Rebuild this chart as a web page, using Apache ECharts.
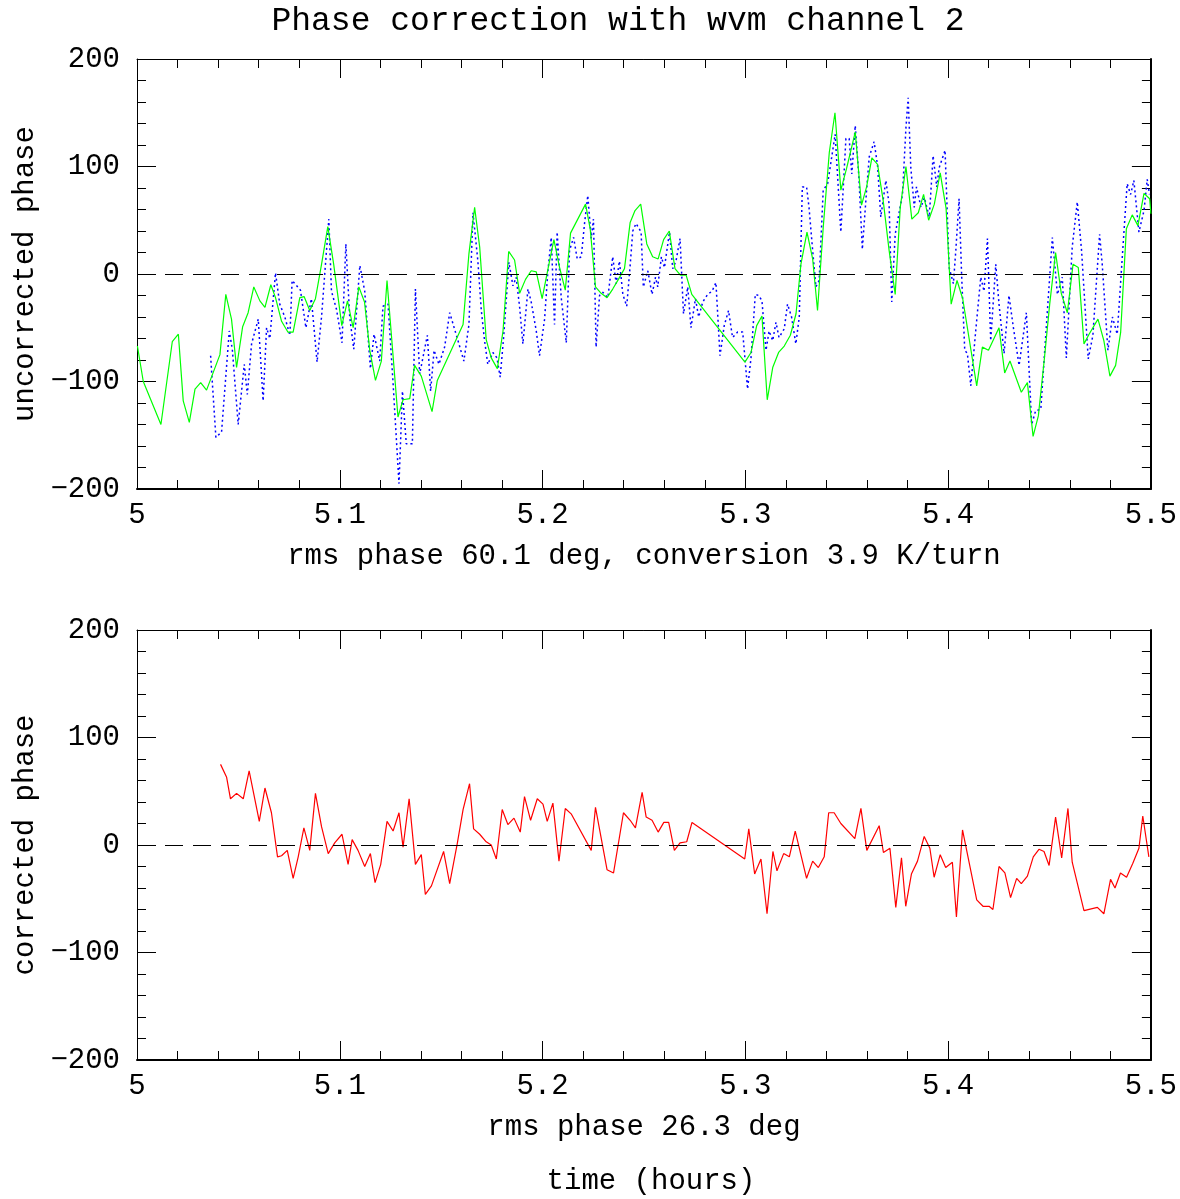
<!DOCTYPE html>
<html lang="en">
<head>
    <meta http-equiv="Content-Type" content="text/html; charset=UTF-8">
    <title>Phase correction with wvm channel 2</title>
    <script type="text/javascript" src="https://cdn.jsdelivr.net/npm/echarts@6/dist/echarts.min.js"></script>
    <style>
        html, body { margin: 0; padding: 0; background: #fff; }
        #chart { width: 1180px; height: 1199px; }
    </style>
</head>
<body>
<div id="chart"></div>
<script type="text/javascript">
    // [time (hours), phase (deg)]
    var uncorrected = [
        [5.0363,-76],[5.0389,-152],[5.0417,-147],[5.0455,-53],[5.0470,-70],[5.0499,-140],[5.0529,-84],[5.0544,-112],
        [5.0565,-65],[5.0598,-42],[5.0622,-118],[5.0639,-50],[5.0655,-60],[5.0683,1],[5.0704,-28],[5.0729,-40],
        [5.0754,-57],[5.0765,-6],[5.0806,-15],[5.0833,-50],[5.0860,-23],[5.0888,-82],[5.0910,-40],[5.0946,51],
        [5.0959,-16],[5.0984,-33],[5.1011,-64],[5.1030,28],[5.1049,-40],[5.1069,-70],[5.1099,8],[5.1123,-16],
        [5.1151,-88],[5.1169,-56],[5.1197,-81],[5.1213,-30],[5.1238,-28],[5.1263,-102],[5.1292,-195],[5.1309,-109],
        [5.1328,-158],[5.1358,-158],[5.1373,-14],[5.1394,-93],[5.1432,-57],[5.1448,-109],[5.1465,-71],[5.1489,-84],
        [5.1517,-68],[5.1542,-36],[5.1583,-62],[5.1612,-81],[5.1637,-47],[5.1657,57],[5.1681,12],[5.1698,-34],
        [5.1714,-62],[5.1730,-84],[5.1755,-73],[5.1775,-78],[5.1791,-96],[5.1808,-59],[5.1834,11],[5.1854,-11],
        [5.1870,-3],[5.1887,-31],[5.1903,-65],[5.1928,-14],[5.1944,-26],[5.1969,-53],[5.1985,-76],[5.2010,-42],
        [5.2026,2],[5.2043,34],[5.2059,-47],[5.2072,39],[5.2092,-22],[5.2117,-64],[5.2133,22],[5.2153,34],
        [5.2171,14],[5.2191,16],[5.2207,47],[5.2223,73],[5.2240,33],[5.2251,51],[5.2264,-68],[5.2281,-20],
        [5.2297,-17],[5.2322,-22],[5.2346,16],[5.2363,-9],[5.2379,12],[5.2396,-19],[5.2415,-30],[5.2432,8],
        [5.2445,40],[5.2461,47],[5.2486,39],[5.2497,-12],[5.2519,3],[5.2540,-19],[5.2557,-3],[5.2568,-12],
        [5.2586,16],[5.2601,6],[5.2626,39],[5.2642,5],[5.2658,12],[5.2678,33],[5.2695,-37],[5.2716,-12],
        [5.2732,-50],[5.2754,-23],[5.2770,-40],[5.2790,-26],[5.2814,-19],[5.2836,-16],[5.2855,-8],[5.2875,-76],
        [5.2896,-48],[5.2917,-34],[5.2937,-59],[5.2962,-54],[5.2987,-54],[5.3011,-107],[5.3028,-78],[5.3049,-19],
        [5.3066,-20],[5.3082,-25],[5.3102,-71],[5.3117,-53],[5.3135,-62],[5.3151,-45],[5.3166,-59],[5.3192,-51],
        [5.3208,-28],[5.3228,-40],[5.3249,-65],[5.3266,-40],[5.3281,81],[5.3302,81],[5.3314,62],[5.3332,22],
        [5.3348,-12],[5.3364,-6],[5.3384,78],[5.3406,84],[5.3443,130],[5.3471,39],[5.3496,126],[5.3512,126],
        [5.3525,93],[5.3542,138],[5.3560,90],[5.3577,23],[5.3598,78],[5.3611,109],[5.3635,123],[5.3652,101],
        [5.3668,53],[5.3693,87],[5.3709,65],[5.3722,-26],[5.3739,37],[5.3775,74],[5.3792,136],[5.3803,164],
        [5.3816,99],[5.3833,62],[5.3844,81],[5.3866,62],[5.3883,71],[5.3907,53],[5.3926,110],[5.3944,81],
        [5.3956,99],[5.3985,115],[5.4005,6],[5.4026,-9],[5.4038,22],[5.4054,70],[5.4067,-3],[5.4082,-71],
        [5.4095,-74],[5.4112,-104],[5.4136,-53],[5.4161,-3],[5.4177,-16],[5.4194,33],[5.4210,-62],[5.4235,9],
        [5.4251,-28],[5.4276,-74],[5.4300,-20],[5.4322,-50],[5.4350,-85],[5.4386,-36],[5.4412,-140],[5.4432,-127],
        [5.4457,-126],[5.4485,-47],[5.4514,34],[5.4539,-19],[5.4563,-3],[5.4583,-78],[5.4612,25],[5.4637,67],
        [5.4658,22],[5.4691,-79],[5.4714,-57],[5.4747,37],[5.4760,9],[5.4788,-71],[5.4810,-40],[5.4834,-56],
        [5.4859,16],[5.4883,84],[5.4900,74],[5.4916,87],[5.4941,39],[5.4966,59],[5.4982,88],[5.4993,74]
    ];

    var wvmPredicted = [
        [5.0002,-67],[5.0031,-100],[5.0118,-140],[5.0174,-63],[5.0204,-56],[5.0228,-118],[5.0258,-138],[5.0286,-107],
        [5.0314,-101],[5.0343,-108],[5.0409,-75],[5.0438,-19],[5.0466,-42],[5.0491,-87],[5.0521,-49],[5.0548,-36],
        [5.0576,-12],[5.0606,-25],[5.0631,-31],[5.0660,-10],[5.0683,-22],[5.0713,-44],[5.0744,-54],[5.0770,-54],
        [5.0803,-22],[5.0824,-21],[5.0852,-34],[5.0880,-23],[5.0910,9],[5.0941,44],[5.0970,9],[5.1010,-48],
        [5.1038,-25],[5.1066,-50],[5.1094,-12],[5.1122,-26],[5.1148,-71],[5.1176,-99],[5.1205,-81],[5.1233,-6],
        [5.1287,-133],[5.1312,-117],[5.1345,-116],[5.1369,-85],[5.1402,-95],[5.1455,-128],[5.1481,-99],[5.1608,-47],
        [5.1637,19],[5.1665,62],[5.1690,25],[5.1722,-61],[5.1747,-78],[5.1777,-88],[5.1805,-53],[5.1833,21],
        [5.1862,13],[5.1887,-18],[5.1916,-5],[5.1944,3],[5.1969,2],[5.1998,-23],[5.2028,6],[5.2056,32],
        [5.2084,6],[5.2112,-15],[5.2138,38],[5.2212,65],[5.2235,42],[5.2261,-12],[5.2289,-18],[5.2318,-22],
        [5.2346,-14],[5.2374,-5],[5.2404,5],[5.2432,48],[5.2456,59],[5.2484,65],[5.2514,28],[5.2543,16],
        [5.2570,14],[5.2597,32],[5.2625,40],[5.2653,5],[5.2680,-1],[5.2708,-1],[5.2736,-19],[5.2998,-82],
        [5.3028,-73],[5.3056,-48],[5.3082,-39],[5.3108,-117],[5.3135,-87],[5.3164,-73],[5.3192,-67],[5.3222,-57],
        [5.3250,-37],[5.3274,9],[5.3304,39],[5.3332,14],[5.3356,-34],[5.3384,43],[5.3414,113],[5.3442,150],
        [5.3471,78],[5.3499,98],[5.3542,132],[5.3573,64],[5.3598,81],[5.3624,108],[5.3652,102],[5.3680,68],
        [5.3709,22],[5.3739,-19],[5.3764,62],[5.3792,100],[5.3821,51],[5.3853,57],[5.3879,74],[5.3904,50],
        [5.3932,65],[5.3961,94],[5.3990,61],[5.4015,-28],[5.4044,-6],[5.4072,-23],[5.4141,-104],[5.4169,-68],
        [5.4199,-71],[5.4251,-50],[5.4279,-92],[5.4305,-81],[5.4361,-110],[5.4391,-101],[5.4419,-151],[5.4445,-132],
        [5.4473,-82],[5.4501,-28],[5.4530,20],[5.4558,-18],[5.4588,-36],[5.4616,9],[5.4642,6],[5.4670,-65],
        [5.4695,-56],[5.4739,-42],[5.4768,-62],[5.4798,-95],[5.4826,-85],[5.4851,-54],[5.4879,42],[5.4908,55],
        [5.4936,45],[5.4966,75],[5.4994,70],[5.5000,56]
    ];

    var corrected = [
        [5.0412,75],[5.0442,63],[5.0461,43],[5.0491,48],[5.0524,43],[5.0553,69],[5.0603,22],[5.0631,53],
        [5.0663,30],[5.0693,-11],[5.0713,-10],[5.0741,-5],[5.0770,-31],[5.0795,-11],[5.0823,16],[5.0852,-5],
        [5.0880,48],[5.0910,17],[5.0943,-8],[5.0975,2],[5.1011,10],[5.1041,-18],[5.1061,5],[5.1090,-5],
        [5.1123,-20],[5.1151,-8],[5.1174,-35],[5.1202,-18],[5.1233,22],[5.1263,13],[5.1292,30],[5.1312,-2],
        [5.1342,43],[5.1373,-18],[5.1402,-9],[5.1422,-46],[5.1452,-38],[5.1512,-6],[5.1542,-36],[5.1580,2],
        [5.1608,33],[5.1640,57],[5.1660,15],[5.1690,10],[5.1722,3],[5.1747,0],[5.1772,-13],[5.1801,33],
        [5.1829,19],[5.1859,25],[5.1890,12],[5.1911,45],[5.1941,23],[5.1974,43],[5.2002,38],[5.2023,22],
        [5.2051,39],[5.2081,-15],[5.2112,34],[5.2141,29],[5.2240,-5],[5.2261,35],[5.2318,-23],[5.2350,-26],
        [5.2399,30],[5.2432,23],[5.2458,16],[5.2491,49],[5.2511,26],[5.2540,23],[5.2570,12],[5.2598,21],
        [5.2622,21],[5.2650,-5],[5.2678,2],[5.2711,3],[5.2737,21],[5.2997,-13],[5.3017,15],[5.3046,-27],
        [5.3077,-13],[5.3107,-64],[5.3136,-6],[5.3156,-24],[5.3189,-8],[5.3217,-11],[5.3246,13],[5.3302,-31],
        [5.3332,-15],[5.3360,-21],[5.3389,-11],[5.3411,30],[5.3438,30],[5.3471,20],[5.3540,6],[5.3570,34],
        [5.3599,-5],[5.3660,18],[5.3681,-7],[5.3713,-3],[5.3742,-58],[5.3770,-12],[5.3791,-57],[5.3819,-27],
        [5.3849,-15],[5.3882,8],[5.3910,-3],[5.3931,-30],[5.3961,-9],[5.3988,-21],[5.4021,-16],[5.4041,-67],
        [5.4071,14],[5.4141,-51],[5.4172,-57],[5.4202,-57],[5.4221,-60],[5.4251,-20],[5.4280,-26],[5.4308,-49],
        [5.4338,-31],[5.4361,-36],[5.4391,-29],[5.4420,-11],[5.4448,-4],[5.4473,-6],[5.4498,-19],[5.4530,26],
        [5.4560,-12],[5.4591,34],[5.4612,-16],[5.4670,-61],[5.4736,-58],[5.4768,-64],[5.4801,-32],[5.4823,-40],
        [5.4850,-26],[5.4880,-30],[5.4911,-17],[5.4941,-3],[5.4960,27],[5.4990,-11]
    ];

    var timeRange = [5, 5.5];
    var phaseRange = [-200, 200];
    var topXName = 'rms phase 60.1 deg, conversion 3.9 K/turn';
    var bottomXName = 'rms phase 26.3 deg';

    var FONT = 'Liberation Mono';

    var chart = echarts.init(document.getElementById('chart'));

    // box edge with inside ticks, labels only on the bottom / left sides
    function xAxis(grid, pos, withLabels, name) {
        return {
            type: 'value', gridIndex: grid, position: pos,
            min: timeRange[0], max: timeRange[1], interval: 0.1,
            name: withLabels ? name : '', nameLocation: 'middle', nameGap: 53,
            nameTextStyle: { fontFamily: FONT, fontSize: 29, color: '#000' },
            axisLine: { show: true, onZero: false, lineStyle: { color: '#000', width: pos === 'bottom' ? 2 : 1 } },
            axisTick: { show: true, inside: true, length: 19, lineStyle: { color: '#000' } },
            minorTick: { show: true, splitNumber: 5, length: 9, lineStyle: { color: '#000' } },
            splitLine: { show: false },
            axisLabel: {
                show: withLabels, margin: 12, showMinLabel: true, showMaxLabel: true,
                fontFamily: FONT, fontSize: 29, color: '#000'
            }
        };
    }

    function yAxis(grid, pos, withLabels, name) {
        return {
            type: 'value', gridIndex: grid, position: pos,
            min: phaseRange[0], max: phaseRange[1], interval: 100,
            name: withLabels ? name : '', nameLocation: 'middle', nameGap: 96,
            nameTextStyle: { fontFamily: FONT, fontSize: 29, color: '#000' },
            axisLine: { show: true, onZero: false, lineStyle: { color: '#000', width: pos === 'right' ? 2 : 1 } },
            axisTick: { show: true, inside: true, length: 19, lineStyle: { color: '#000' } },
            minorTick: { show: true, splitNumber: 5, length: 9, lineStyle: { color: '#000' } },
            splitLine: { show: false },
            axisLabel: {
                show: withLabels, margin: 17, showMinLabel: true, showMaxLabel: true,
                fontFamily: FONT, fontSize: 29, color: '#000',
                formatter: function (v) { return String(v).replace('-', '\u2212'); }
            }
        };
    }

    var zeroLine = {
        silent: true, symbol: ['none', 'none'], label: { show: false },
        lineStyle: { color: '#000', type: [18, 10], width: 1 },
        data: [{ yAxis: 0 }]
    };

    chart.setOption({
        animation: false,
        backgroundColor: '#fff',
        grid: [
            { left: 137, top: 59, width: 1015, height: 430 },
            { left: 137, top: 630, width: 1015, height: 430 }
        ],
        xAxis: [
            xAxis(0, 'bottom', true, topXName),
            xAxis(0, 'top', false),
            xAxis(1, 'bottom', true, bottomXName),
            xAxis(1, 'top', false)
        ],
        yAxis: [
            yAxis(0, 'left', true, 'uncorrected phase'),
            yAxis(0, 'right', false),
            yAxis(1, 'left', true, 'corrected phase'),
            yAxis(1, 'right', false)
        ],
        graphic: [
            {
                type: 'text', x: 618, y: 21,
                style: { text: 'Phase correction with wvm channel 2', align: 'center', verticalAlign: 'middle',
                         font: '33px "' + FONT + '"', fill: '#000' }
            },
            {
                type: 'text', x: 651, y: 1181,
                style: { text: 'time (hours)', align: 'center', verticalAlign: 'middle',
                         font: '29px "' + FONT + '"', fill: '#000' }
            }
        ],
        series: [
            {
                name: 'uncorrected', type: 'line', xAxisIndex: 0, yAxisIndex: 0,
                data: uncorrected, showSymbol: false,
                lineStyle: { color: '#0000ff', width: 1.5, type: [2, 3] },
                markLine: zeroLine
            },
            {
                name: 'wvm', type: 'line', xAxisIndex: 0, yAxisIndex: 0,
                data: wvmPredicted, showSymbol: false,
                lineStyle: { color: '#00ff00', width: 1.2 }
            },
            {
                name: 'corrected', type: 'line', xAxisIndex: 2, yAxisIndex: 2,
                data: corrected, showSymbol: false,
                lineStyle: { color: '#ff0000', width: 1.2 },
                markLine: zeroLine
            }
        ]
    });
</script>
</body>
</html>
